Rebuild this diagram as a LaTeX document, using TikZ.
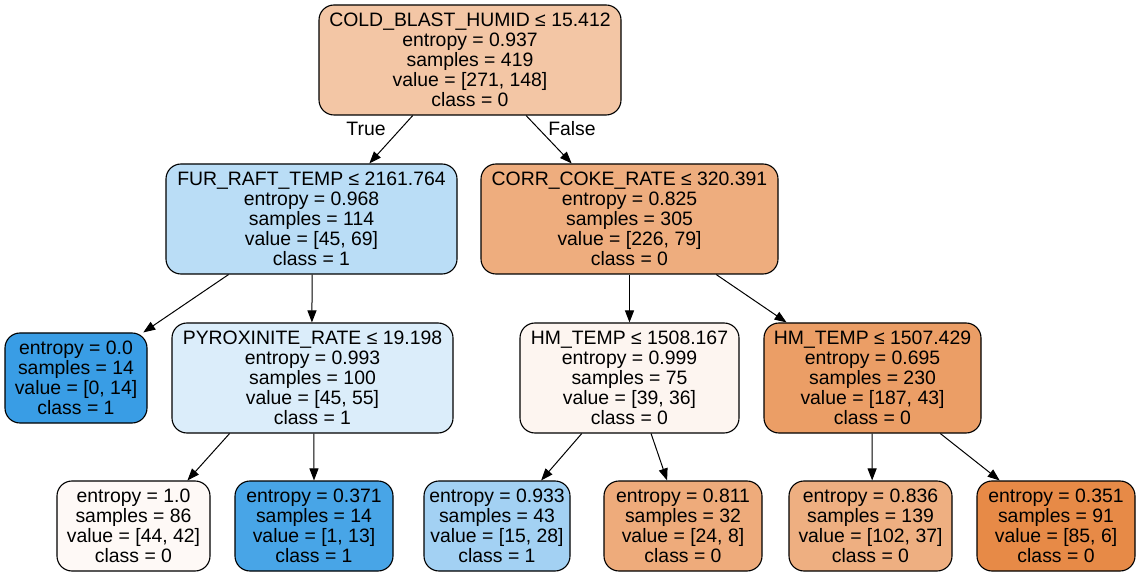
\documentclass[tikz,border=0pt]{standalone}
\usepackage{fontspec}
\setmainfont{Liberation Sans}
\usetikzlibrary{arrows.meta,calc}
\definecolor{cRoot}{RGB}{243,198,165}
\definecolor{cFur}{RGB}{186,221,246}
\definecolor{cCorr}{RGB}{238,173,126}
\definecolor{cLeafA}{RGB}{57,157,229}
\definecolor{cPyro}{RGB}{219,237,250}
\definecolor{cHmA}{RGB}{253,245,240}
\definecolor{cHmB}{RGB}{235,158,102}
\definecolor{cL1}{RGB}{254,249,246}
\definecolor{cL2}{RGB}{72,165,231}
\definecolor{cL3}{RGB}{163,209,243}
\definecolor{cL4}{RGB}{238,171,123}
\definecolor{cL5}{RGB}{238,175,129}
\definecolor{cL6}{RGB}{231,138,71}
\newcommand\tedge[4]{\draw[treeedge] ($(#1.south west)!#2!(#1.south east)$) -- ($(#3.north west)!#4!(#3.north east)$);}
\begin{document}
\begin{tikzpicture}[x=1pt,y=-1pt,
  tn/.style={draw=black, line width=1.1pt, rounded corners=15pt, align=center, inner sep=0pt, font=\fontsize{19.4}{20}\selectfont},
  treeedge/.style={line width=1pt, -{Triangle[length=12pt,width=9pt]}},
  lbl/.style={inner sep=0pt, font=\fontsize{19.4}{20}\selectfont}]
\useasboundingbox[fill=white] (0,0) rectangle (1141,577);
\node[tn, fill=cRoot, minimum width=302pt, minimum height=110pt] (root) at (470,60) {COLD\_BLAST\_HUMID ≤ 15.412\\entropy = 0.937\\samples = 419\\value = [271, 148]\\class = 0};
\node[tn, fill=cFur, minimum width=291pt, minimum height=110pt] (fur) at (311.5,219) {FUR\_RAFT\_TEMP ≤ 2161.764\\entropy = 0.968\\samples = 114\\value = [45, 69]\\class = 1};
\node[tn, fill=cCorr, minimum width=297pt, minimum height=110pt] (corr) at (629.5,219) {CORR\_COKE\_RATE ≤ 320.391\\entropy = 0.825\\samples = 305\\value = [226, 79]\\class = 0};
\node[tn, fill=cLeafA, minimum width=142pt, minimum height=90pt] (leafa) at (76,378) {entropy = 0.0\\samples = 14\\value = [0, 14]\\class = 1};
\node[tn, fill=cPyro, minimum width=281pt, minimum height=110pt] (pyro) at (312.5,378) {PYROXINITE\_RATE ≤ 19.198\\entropy = 0.993\\samples = 100\\value = [45, 55]\\class = 1};
\node[tn, fill=cHmA, minimum width=219pt, minimum height=110pt] (hma) at (629.5,378) {HM\_TEMP ≤ 1508.167\\entropy = 0.999\\samples = 75\\value = [39, 36]\\class = 0};
\node[tn, fill=cHmB, minimum width=217pt, minimum height=110pt] (hmb) at (872.5,378) {HM\_TEMP ≤ 1507.429\\entropy = 0.695\\samples = 230\\value = [187, 43]\\class = 0};
\node[tn, fill=cL1, minimum width=153pt, minimum height=90pt] (la) at (133.5,526) {entropy = 1.0\\samples = 86\\value = [44, 42]\\class = 0};
\node[tn, fill=cL2, minimum width=158pt, minimum height=90pt] (lb) at (314,526) {entropy = 0.371\\samples = 14\\value = [1, 13]\\class = 1};
\node[tn, fill=cL3, minimum width=146pt, minimum height=90pt] (lc) at (497,526) {entropy = 0.933\\samples = 43\\value = [15, 28]\\class = 1};
\node[tn, fill=cL4, minimum width=158pt, minimum height=90pt] (ld) at (683,526) {entropy = 0.811\\samples = 32\\value = [24, 8]\\class = 0};
\node[tn, fill=cL5, minimum width=163pt, minimum height=90pt] (le) at (870.5,526) {entropy = 0.836\\samples = 139\\value = [102, 37]\\class = 0};
\node[tn, fill=cL6, minimum width=158pt, minimum height=90pt] (lf) at (1056,526) {entropy = 0.351\\samples = 91\\value = [85, 6]\\class = 0};
\tedge{root}{0.311}{fur}{0.698}
\tedge{root}{0.685}{corr}{0.306}
\tedge{fur}{0.216}{leafa}{0.97}
\tedge{fur}{0.502}{pyro}{0.498}
\tedge{corr}{0.5}{hma}{0.5}
\tedge{corr}{0.791}{hmb}{0.106}
\tedge{pyro}{0.206}{la}{0.85}
\tedge{pyro}{0.505}{lb}{0.5}
\tedge{hma}{0.283}{lc}{0.80}
\tedge{hma}{0.598}{ld}{0.40}
\tedge{hmb}{0.498}{le}{0.51}
\tedge{hmb}{0.811}{lf}{0.146}
\node[lbl] (truelbl) at (366,129) {True};
\node[lbl] (falselbl) at (572,129) {False};
\end{tikzpicture}
\end{document}
